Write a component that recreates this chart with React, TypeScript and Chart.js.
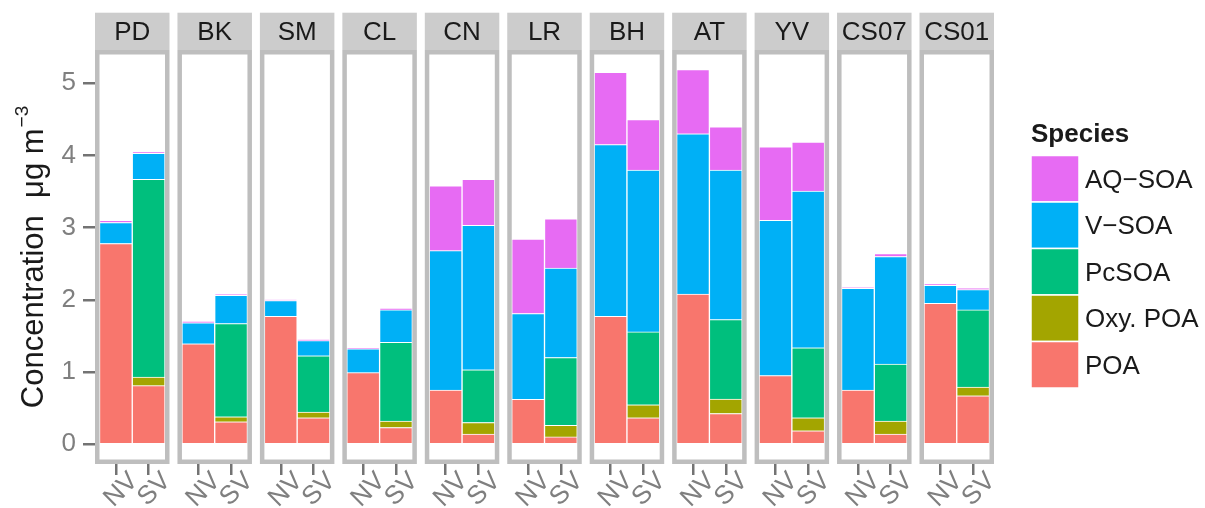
import React, { useEffect, useRef } from 'react';
import { Chart, registerables } from 'chart.js';

Chart.register(...registerables);

// ---------- data ----------
const sites = ['PD', 'BK', 'SM', 'CL', 'CN', 'LR', 'BH', 'AT', 'YV', 'CS07', 'CS01'];
const groups = ['NV', 'SV'];
const species = ['POA', 'Oxy. POA', 'PcSOA', 'V−SOA', 'AQ−SOA'];
const speciesColors = ['#F8766D', '#A3A500', '#00BF7D', '#00B0F6', '#E76BF3'];

// values per bar, ordered site by site: NV, SV
const poa = [2.78, 0.81, 1.39, 0.31, 1.77, 0.365, 0.99, 0.23, 0.75, 0.14, 0.62, 0.10, 1.77, 0.365, 2.08, 0.425, 0.95, 0.185, 0.75, 0.14, 1.95, 0.67];
const oxyPoa = [0, 0.12, 0, 0.07, 0, 0.08, 0, 0.09, 0, 0.16, 0, 0.16, 0, 0.18, 0, 0.2, 0, 0.18, 0, 0.18, 0, 0.12];
const pcSoa = [0, 2.74, 0, 1.29, 0, 0.78, 0, 1.09, 0, 0.73, 0, 0.94, 0, 1.01, 0, 1.1, 0, 0.97, 0, 0.79, 0, 1.07];
const vSoa = [0.29, 0.36, 0.29, 0.39, 0.22, 0.21, 0.33, 0.45, 1.93, 2.0, 1.19, 1.24, 2.38, 2.24, 2.22, 2.07, 2.15, 2.17, 1.41, 1.49, 0.25, 0.28];
const aqSoa = [0.03, 0.02, 0.02, 0.02, 0.01, 0.015, 0.01, 0.02, 0.9, 0.64, 1.03, 0.68, 1.0, 0.7, 0.89, 0.6, 1.02, 0.68, 0.01, 0.04, 0.02, 0.02];
const seriesValues = [poa, oxyPoa, pcSoa, vSoa, aqSoa];

const yTicks = [0, 1, 2, 3, 4, 5];
const yTitle = 'Concentration  μg m';
const yTitleSup = '−3';
const legendTitle = 'Species';

// ---------- layout / style ----------
const W = 1205;
const H = 508;
const FONT = '"Liberation Sans", Arial, sans-serif';
const PITCH = 82.45;
const PANEL_W = 74.5;
const BORDER = 4.5;
const X_MAX = (sites.length - 1) * PITCH + PANEL_W;
const BAR_W = (PANEL_W - 2 * BORDER) / groups.length;
const STRIP_TOP = 12.7;
const TICK_COLOR = '#737373';
const LABEL_GREY = '#7F7F7F';
const TEXT = '#1A1A1A';

const barX = (j: number) => {
  const s = Math.floor(j / groups.length);
  const g = j % groups.length;
  return s * PITCH + BORDER + (g + 0.5) * BAR_W;
};
const barXs = poa.map((_, j) => barX(j));

const facetPlugin = {
  id: 'facets',
  afterDatasetsDraw(chart: any) {
    const { ctx, chartArea, scales } = chart;
    const x = scales.x;
    ctx.save();
    sites.forEach((site, i) => {
      const p0 = x.getPixelForValue(i * PITCH);
      const p1 = x.getPixelForValue(i * PITCH + PANEL_W);
      // panel border
      ctx.strokeStyle = '#BEBEBE';
      ctx.lineWidth = BORDER;
      ctx.strokeRect(p0 + BORDER / 2, chartArea.top + BORDER / 2, p1 - p0 - BORDER, chartArea.bottom - chartArea.top - BORDER);
      // strip
      ctx.fillStyle = '#CCCCCC';
      ctx.fillRect(p0, STRIP_TOP, p1 - p0, chartArea.top - STRIP_TOP);
      ctx.fillStyle = TEXT;
      ctx.font = `26px ${FONT}`;
      ctx.textAlign = 'center';
      ctx.textBaseline = 'middle';
      ctx.fillText(site, (p0 + p1) / 2, (STRIP_TOP + chartArea.top) / 2 + 1);
    });

    // y title with superscript
    ctx.save();
    const midY = (chartArea.top + chartArea.bottom) / 2;
    ctx.translate(43, midY);
    ctx.rotate(-Math.PI / 2);
    ctx.font = `31px ${FONT}`;
    const w1 = ctx.measureText(yTitle).width;
    ctx.font = `19px ${FONT}`;
    const w2 = ctx.measureText(yTitleSup).width;
    const total = w1 + 1 + w2;
    ctx.textAlign = 'left';
    ctx.textBaseline = 'alphabetic';
    ctx.fillStyle = TEXT;
    ctx.font = `31px ${FONT}`;
    ctx.fillText(yTitle, -total / 2, 0);
    ctx.font = `19px ${FONT}`;
    ctx.fillText(yTitleSup, -total / 2 + w1 + 1, -15);
    ctx.restore();

    // legend
    const lx = 1031;
    ctx.fillStyle = TEXT;
    ctx.font = `bold 26px ${FONT}`;
    ctx.textAlign = 'left';
    ctx.textBaseline = 'alphabetic';
    ctx.fillText(legendTitle, lx, 142);
    const keyH = 46.5;
    const keyW = 48;
    const top0 = 155.5;
    const order = species.map((_, k) => k).reverse();
    order.forEach((k, r) => {
      const y0 = top0 + r * keyH;
      ctx.fillStyle = speciesColors[k];
      ctx.fillRect(lx, y0, keyW, keyH);
      ctx.strokeStyle = '#FFFFFF';
      ctx.lineWidth = 1.5;
      ctx.strokeRect(lx, y0, keyW, keyH);
      ctx.fillStyle = TEXT;
      ctx.font = `26px ${FONT}`;
      ctx.textBaseline = 'middle';
      ctx.fillText(species[k], lx + 54, y0 + keyH / 2 + 2);
    });
    ctx.restore();
  },
};

export default function App() {
  const canvasRef = useRef<HTMLCanvasElement | null>(null);

  useEffect(() => {
    const canvas = canvasRef.current;
    if (!canvas) return;
    const datasets = species.map((name, k) => ({
      label: name,
      data: seriesValues[k].map((v, j) => ({ x: barXs[j], y: v })),
      backgroundColor: speciesColors[k],
      borderColor: '#FFFFFF',
      borderWidth: 1,
      borderSkipped: 'start' as const,
      barThickness: BAR_W,
      stack: 'all',
    }));
    const chart = new Chart(canvas, {
      type: 'bar',
      data: { datasets },
      plugins: [facetPlugin],
      options: {
        responsive: false,
        animation: false,
        devicePixelRatio: 1,
        events: [],
        layout: { padding: { left: 10, right: W - 95 - X_MAX, top: 50, bottom: 0 } },
        plugins: {
          legend: { display: false },
          tooltip: { enabled: false },
          title: { display: false },
        },
        scales: {
          x: {
            type: 'linear',
            min: 0,
            max: X_MAX,
            offset: false,
            stacked: true,
            grid: {
              display: true,
              offset: false,
              drawOnChartArea: false,
              drawTicks: true,
              tickLength: 11,
              color: TICK_COLOR,
              lineWidth: 2.5,
            },
            border: { display: false },
            ticks: {
              autoSkip: false,
              minRotation: 45,
              maxRotation: 45,
              padding: -9,
              labelOffset: 18,
              color: LABEL_GREY,
              font: { family: FONT, size: 26 },
              callback: (_v: any, i: number) => groups[i % groups.length],
            },
            afterBuildTicks: (axis: any) => {
              axis.ticks = barXs.map((v) => ({ value: v }));
            },
            afterFit: (axis: any) => {
              axis.height = 44;
              axis.paddingLeft = 0;
              axis.paddingRight = 0;
            },
          },
          y: {
            stacked: true,
            min: -0.275,
            max: 5.46,
            grid: {
              display: true,
              drawOnChartArea: false,
              drawTicks: true,
              tickLength: 12,
              color: TICK_COLOR,
              lineWidth: 2.5,
            },
            border: { display: false },
            ticks: {
              padding: 7,
              color: LABEL_GREY,
              font: { family: FONT, size: 26 },
              callback: (v: any) => String(v),
            },
            afterBuildTicks: (axis: any) => {
              axis.ticks = yTicks.map((v) => ({ value: v }));
            },
            afterFit: (axis: any) => {
              axis.width = 85;
              axis.paddingTop = 0;
              axis.paddingBottom = 0;
            },
          },
        },
      } as any,
    });
    return () => chart.destroy();
  }, []);

  return (
    <div style={{ position: 'fixed', left: 0, top: 0, width: W, height: H, background: '#FFFFFF' }}>
      <canvas ref={canvasRef} width={W} height={H} style={{ width: W, height: H, display: 'block' }} />
    </div>
  );
}
